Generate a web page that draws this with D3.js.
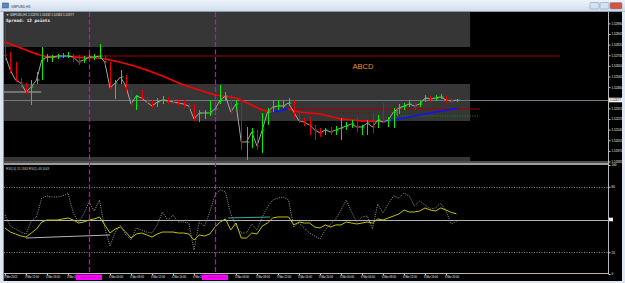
<!DOCTYPE html>
<html><head><meta charset="utf-8">
<script src="https://cdn.jsdelivr.net/npm/d3@7"></script>
<style>html,body{margin:0;padding:0;background:#000;overflow:hidden}svg{display:block}</style>
</head><body>
<svg id="c" width="625" height="283"></svg>
<script>
// ---------- DATA ----------
const closes = [
 1.52737,1.52617,1.52537,1.52513,1.52441,1.52481,1.52537,1.52697,1.52721,1.52721,
 1.52729,1.52729,1.52729,1.52721,1.52681,1.52697,1.52721,1.52721,1.52729,1.52681,
 1.52473,1.52513,1.52561,1.52489,1.52345,1.52409,1.52393,1.52361,1.52329,1.52361,
 1.52377,1.52369,1.52361,1.52353,1.52345,1.52329,1.52225,1.52273,1.52273,1.52273,
 1.52305,1.52377,1.52409,1.52281,1.52345,1.52041,1.52041,1.52121,1.52009,1.52137,
 1.52281,1.52321,1.52329,1.52329,1.52353,1.52281,1.52209,1.52201,1.52177,1.52137,
 1.52113,1.52137,1.52121,1.52137,1.52153,1.52169,1.52185,1.52161,1.52161,1.52193,
 1.52161,1.52217,1.52201,1.52217,1.52281,1.52313,1.52329,1.52345,1.52329,1.52345,
 1.52393,1.52385,1.52393,1.52401,1.52377,1.52369,1.52377];
const highs = [
 1.53017,1.52761,1.52681,1.52553,1.52513,1.52537,1.52601,1.52801,1.52745,1.52737,
 1.52745,1.52753,1.52761,1.52745,1.52737,1.52729,1.52753,1.52745,1.52825,1.52737,
 1.52681,1.52537,1.52617,1.52577,1.52457,1.52417,1.52457,1.52401,1.52377,1.52393,
 1.52409,1.52401,1.52393,1.52385,1.52377,1.52353,1.52345,1.52297,1.52297,1.52377,
 1.52345,1.52497,1.52441,1.52417,1.52377,1.52377,1.52161,1.52153,1.52137,1.52273,
 1.52313,1.52377,1.52377,1.52369,1.52393,1.52377,1.52297,1.52233,1.52241,1.52177,
 1.52153,1.52153,1.52161,1.52169,1.52233,1.52201,1.52217,1.52241,1.52177,1.52217,
 1.52273,1.52257,1.52353,1.52241,1.52313,1.52345,1.52353,1.52377,1.52353,1.52369,
 1.52417,1.52409,1.52417,1.52425,1.52409,1.52393,1.52385];
const lows = [
 1.52697,1.52593,1.52521,1.52473,1.52425,1.52337,1.52505,1.52537,1.52681,1.52681,
 1.52705,1.52713,1.52713,1.52681,1.52657,1.52673,1.52681,1.52697,1.52705,1.52657,
 1.52465,1.52385,1.52505,1.52441,1.52329,1.52297,1.52377,1.52337,1.52313,1.52321,
 1.52345,1.52345,1.52345,1.52329,1.52313,1.52297,1.52209,1.52201,1.52225,1.52249,
 1.52257,1.52345,1.52377,1.52265,1.52297,1.51977,1.51897,1.51993,1.51977,1.51953,
 1.52177,1.52281,1.52297,1.52313,1.52329,1.52233,1.52193,1.52169,1.52097,1.52057,
 1.52081,1.52097,1.52097,1.52097,1.52057,1.52137,1.52153,1.52121,1.52097,1.52097,
 1.52113,1.52153,1.52193,1.52161,1.52153,1.52265,1.52297,1.52321,1.52297,1.52321,
 1.52361,1.52361,1.52369,1.52385,1.52353,1.52353,1.52361];
const maBars = [0,3,6,8,10,12,14,18,21,24,27,30,34,37,40,44,47,49,51,54,56,60,64,68,72,74,77,80,82,86];
const maValues = [1.52841,1.52793,1.52745,1.52721,1.52717,1.52729,1.52717,1.52713,1.52689,1.52657,
 1.52617,1.52569,1.52497,1.52457,1.52417,1.52393,1.52337,1.52297,1.52281,1.52305,
 1.52281,1.52265,1.52225,1.52209,1.52205,1.52217,1.52241,1.52265,1.52281,1.52309];
const rsiSlow = [
 42.2,38.5,36.7,34.9,33.9,37.6,41.3,47.7,49.5,49.5,
 49.5,50.5,51.4,49.5,46.8,47.7,49.5,50.5,52.3,45.0,
 37.6,41.3,43.1,38.5,33.0,36.7,37.6,35.8,33.9,36.7,
 38.5,38.5,38.5,37.6,37.6,36.7,31.2,35.8,34.9,36.7,
 43.1,47.7,50.5,40.4,46.8,33.0,33.0,37.6,36.7,44.0,
 46.8,51.4,52.3,52.3,52.3,45.0,47.7,46.8,46.8,43.1,
 42.2,45.0,43.1,45.0,45.0,47.7,46.8,45.9,46.8,47.7,
 46.8,50.5,49.5,51.4,53.2,55.0,58.7,56.9,56.9,57.8,
 60.6,58.7,57.8,60.6,58.7,56.5,55.2];
const rsiFast = [
 54.1,44.0,41.3,38.5,36.7,48.6,52.3,69.7,71.6,70.6,
 70.6,71.6,74.3,56.0,47.7,55.0,66.1,57.8,67.9,42.2,
 25.7,38.5,45.0,35.8,31.2,42.2,40.4,38.5,37.6,45.0,
 56.9,49.5,54.1,47.7,47.7,46.8,22.0,47.7,44.0,56.9,
 72.5,77.1,75.2,55.0,44.0,37.6,37.6,45.9,40.4,52.3,
 61.5,67.9,69.7,70.6,67.9,43.1,46.8,42.2,37.6,34.9,
 32.1,40.4,45.9,50.5,58.7,67.9,56.9,47.7,52.3,53.2,
 41.3,64.2,56.0,64.2,71.6,69.7,74.3,71.6,62.4,67.0,
 63.3,59.6,60.6,65.1,57.8,45.9,48.3];
const priceTicks = [1.52990,1.52905,1.52820,1.52735,1.52650,1.52565,1.52480,1.52310,1.52225,1.52140,1.52055,1.51970,1.51885];
const timeTickBars = [0,4,8,12,20,24,28,32,36,44,48,52,56,60,64,68,72,76,80,84];
const timeLabels = ["3 Mar 2015","3 Mar 12:00","3 Mar 16:00","3 Mar 20:00","4 Mar 04:00","4 Mar 08:00","4 Mar 12:00","4 Mar 16:00","4 Mar 20:00",
 "5 Mar 04:00","5 Mar 08:00","5 Mar 12:00","5 Mar 16:00","5 Mar 20:00","6 Mar 00:00","6 Mar 04:00","6 Mar 08:00","6 Mar 12:00","6 Mar 16:00","6 Mar 20:00"];
const sepBars = [16,40];
const sepLabels = ["2015.03.04 00:00","2015.03.05 00:00"];
const rsiLevels = [80,50,20];
const bidPrice = 1.52377;
// chart objects (time in bar units, price values)
const zones = [{b0:-1,b1:88.6,p0:1.53200,p1:1.52801},{b0:-1,b1:88.6,p0:1.52505,p1:1.52209},{b0:-1,b1:88.6,p0:1.51921,p1:1.51700}];
const trendLines = [
 {b0:6.8,b1:105.7,p0:1.52729,p1:1.52729,color:"#a00000",dash:null},
 {b0:54,b1:90.5,p0:1.52305,p1:1.52305,color:"#a00000",dash:null},
 {b0:62.5,b1:69.5,p0:1.52273,p1:1.52273,color:"#8a0000",dash:"1,1.5"},
 {b0:74.7,b1:90.5,p0:1.52249,p1:1.52249,color:"#00a000",dash:"1,1.5"},
 {b0:74.7,b1:74.7,p0:1.52297,p1:1.52249,color:"#888888",dash:null},
 {b0:-0.2,b1:6.9,p0:1.52441,p1:1.52441,color:"#b0b0b0",dash:null}];
const rsiTrend = [{b0:4,b1:20,v0:33.0,v1:35.8,color:"#b4b4b4"},{b0:42.5,b1:50.5,v0:51.4,v1:52.3,color:"#3aa8a8"}];

// ---------- SCALES ----------
const svg = d3.select("#c");
const x = d3.scaleLinear().domain([0,86]).range([5,456.5]);
const y = d3.scaleLinear().domain([1.51897,1.53081]).range([160,12]);
const ys = d3.scaleLinear().domain([0,100]).range([274,165]);
const font = "'Liberation Sans', Arial, sans-serif";

svg.append("rect").attr("width",625).attr("height",283).attr("fill","#000");

const defs = svg.append("defs");
const g1 = defs.append("linearGradient").attr("id","tb").attr("x1",0).attr("y1",0).attr("x2",0).attr("y2",1);
g1.append("stop").attr("offset","0").attr("stop-color","#eef3fa");
g1.append("stop").attr("offset","1").attr("stop-color","#cfdcec");
defs.append("clipPath").attr("id","cm").append("rect").attr("x",4).attr("y",12).attr("width",604).attr("height",149);
defs.append("clipPath").attr("id","cs").append("rect").attr("x",4).attr("y",165).attr("width",604).attr("height",108.5);

// ---------- MAIN PANE ----------
const main = svg.append("g").attr("clip-path","url(#cm)");
main.selectAll("rect.zone").data(zones).join("rect").attr("class","zone")
  .attr("x",d=>x(d.b0)).attr("width",d=>x(d.b1)-x(d.b0))
  .attr("y",d=>y(d.p0)).attr("height",d=>y(d.p1)-y(d.p0)).attr("fill","#363636");
main.append("line").attr("x1",4).attr("x2",608).attr("y1",y(bidPrice)+0.5).attr("y2",y(bidPrice)+0.5)
  .attr("stroke","#6f7a86").attr("stroke-width",1);
main.selectAll("line.tl").data(trendLines).join("line").attr("class","tl")
  .attr("x1",d=>x(d.b0)).attr("x2",d=>x(d.b1)).attr("y1",d=>y(d.p0)).attr("y2",d=>y(d.p1))
  .attr("stroke",d=>d.color).attr("stroke-width",1).attr("stroke-dasharray",d=>d.dash);
const maPts = maBars.map((b,i)=>({b:b,v:maValues[i]}));
main.selectAll("line.ma").data(d3.pairs(maPts)).join("line").attr("class","ma")
  .attr("x1",d=>x(d[0].b)).attr("y1",d=>y(d[0].v)).attr("x2",d=>x(d[1].b)).attr("y2",d=>y(d[1].v))
  .attr("stroke",d=>d[1].v>d[0].v?"#1010ff":"#ff0000").attr("stroke-width",1.6).attr("stroke-linecap","round");
main.append("path").datum(closes).attr("fill","none").attr("stroke","#a6a6a6").attr("stroke-width",1)
  .attr("d",d3.line().x((d,i)=>x(i)).y(d=>y(d)));
const bars = closes.map((c,i)=>({i:i,c:c,h:highs[i],l:lows[i],up:i===0?false:c>=closes[i-1]}));
const bg = main.selectAll("g.bar").data(bars).join("g").attr("class","bar");
bg.append("line").attr("x1",d=>Math.round(x(d.i))+0.5).attr("x2",d=>Math.round(x(d.i))+0.5)
  .attr("y1",d=>y(d.h)).attr("y2",d=>y(d.l)).attr("stroke",d=>d.up?"#00ee00":"#ee0000").attr("stroke-width",1);
bg.append("line").attr("x1",d=>Math.round(x(d.i))+0.5).attr("x2",d=>Math.round(x(d.i))+2.5)
  .attr("y1",d=>y(d.c)).attr("y2",d=>y(d.c)).attr("stroke",d=>d.up?"#00ee00":"#ee0000").attr("stroke-width",1);
main.append("text").attr("x",x(66.2)).attr("y",y(1.52649)+2.5).text("ABCD")
  .attr("font-family",font).attr("font-size",7.5).attr("fill","#f08c1e");
main.append("text").attr("x",6).attr("y",16.2).text("\u25BC GBPUSD,H1  1.52370 1.52432 1.52363 1.52377")
  .attr("font-family",font).attr("font-size",3).attr("fill","#e8e8e8");
main.append("text").attr("x",6).attr("y",21.5).text("Spread: 12 points")
  .attr("font-family","'DejaVu Sans Mono', monospace").attr("font-weight","bold").attr("font-size",4.3).attr("fill","#f4f4f4");

// separator between panes
svg.append("rect").attr("x",4).attr("y",161).attr("width",604).attr("height",2).attr("fill","#4e4e4e");
svg.append("rect").attr("x",4).attr("y",163).attr("width",604).attr("height",2).attr("fill","#9c9c9c");

// ---------- SUB PANE ----------
const sub = svg.append("g").attr("clip-path","url(#cs)");
sub.selectAll("line.lvl").data(rsiLevels).join("line").attr("class","lvl")
  .attr("x1",4).attr("x2",608).attr("y1",d=>Math.round(ys(d))+0.5).attr("y2",d=>Math.round(ys(d))+0.5)
  .attr("stroke",d=>d===50?"#b4b4b4":"#8a8a8a").attr("stroke-width",1).attr("stroke-dasharray",d=>d===50?null:"1,1.5");
sub.selectAll("line.rt").data(rsiTrend).join("line").attr("class","rt")
  .attr("x1",d=>x(d.b0)).attr("x2",d=>x(d.b1)).attr("y1",d=>ys(d.v0)).attr("y2",d=>ys(d.v1))
  .attr("stroke",d=>d.color).attr("stroke-width",1);
sub.append("path").datum(rsiFast).attr("fill","none").attr("stroke","#a8a8a8").attr("stroke-width",0.9)
  .attr("stroke-dasharray","1,1.3").attr("d",d3.line().x((d,i)=>x(i)).y(d=>ys(d)));
sub.append("path").datum(rsiSlow).attr("fill","none").attr("stroke","#c2c200").attr("stroke-width",1)
  .attr("d",d3.line().x((d,i)=>x(i)).y(d=>ys(d)));
sub.append("text").attr("x",6).attr("y",169.5).text("RSI(14) 55.1843  RSI(5) 48.3043")
  .attr("font-family",font).attr("font-size",3).attr("fill","#c8c8c8");

// magenta period separators
svg.selectAll("line.sep").data(sepBars).join("line").attr("class","sep")
  .attr("x1",d=>Math.round(x(d))+0.5).attr("x2",d=>Math.round(x(d))+0.5).attr("y1",12).attr("y2",273)
  .attr("stroke","#d800d8").attr("stroke-width",1.2).attr("stroke-dasharray","5,2.5");

// ---------- AXES ----------
const pa = svg.append("g").attr("transform","translate(608.5,0)")
  .call(d3.axisRight(y).tickValues(priceTicks).tickSize(2).tickFormat(d3.format(".5f")));
pa.select(".domain").remove();
pa.selectAll("line").attr("stroke","#c8c8c8");
pa.selectAll("text").attr("font-family",font).attr("font-size",3).attr("fill","#f0f0f0").attr("x",3);
svg.append("line").attr("x1",608.5).attr("x2",608.5).attr("y1",12).attr("y2",274).attr("stroke","#b8b8b8");
// bid label
svg.append("rect").attr("x",609).attr("y",y(bidPrice)-2.3).attr("width",13).attr("height",4.6).attr("fill","#f4f4f4");
svg.append("text").attr("x",610).attr("y",y(bidPrice)+1.1).text(d3.format(".5f")(bidPrice))
  .attr("font-family",font).attr("font-size",3).attr("fill","#000");
// rsi axis labels
const ra = svg.append("g").attr("transform","translate(608.5,0)")
  .call(d3.axisRight(ys).tickValues([100,80,20,0]).tickSize(2).tickFormat(d3.format("d")));
ra.select(".domain").remove();
ra.selectAll("line").attr("stroke","#c8c8c8");
ra.selectAll("text").attr("font-family",font).attr("font-size",3).attr("fill","#f0f0f0").attr("x",3);
svg.append("rect").attr("x",609).attr("y",ys(50)-1.8).attr("width",4).attr("height",3.6).attr("fill","#f4f4f4");

// time axis
svg.append("line").attr("x1",4).attr("x2",608.5).attr("y1",273.5).attr("y2",273.5).attr("stroke","#b8b8b8");
const ta = svg.append("g").attr("transform","translate(0,273.5)")
  .call(d3.axisBottom(x).tickValues(timeTickBars).tickSize(2).tickFormat((d,i)=>timeLabels[i]));
ta.select(".domain").remove();
ta.selectAll("line").attr("stroke","#c8c8c8");
ta.selectAll("text").attr("font-family",font).attr("font-size",2.6).attr("fill","#f0f0f0")
  .attr("text-anchor","start").attr("x",-1.5).attr("y",2.4);
const sl = svg.selectAll("g.sl").data(sepBars).join("g").attr("class","sl")
  .attr("transform",d=>`translate(${x(d)},274.5)`);
sl.append("rect").attr("x",-13).attr("y",0).attr("width",26).attr("height",5.5).attr("fill","#ff00ff");
sl.append("text").attr("x",1.5).attr("y",3.9).attr("text-anchor","middle").text((d,i)=>sepLabels[i])
  .attr("font-family",font).attr("font-size",2.5).attr("fill","#3a003a");

// ---------- WINDOW FRAME ----------
svg.append("rect").attr("x",0).attr("y",0).attr("width",625).attr("height",11.5).attr("fill","url(#tb)");
svg.append("line").attr("x1",0).attr("x2",625).attr("y1",11.5).attr("y2",11.5).attr("stroke","#8a9bb0");
svg.append("rect").attr("x",0).attr("y",11.5).attr("width",3.5).attr("height",272).attr("fill","#dde6f1");
svg.append("line").attr("x1",3.5).attr("x2",3.5).attr("y1",11.5).attr("y2",281).attr("stroke","#8597ae");
svg.append("rect").attr("x",622).attr("y",11.5).attr("width",3).attr("height",272).attr("fill","#dde6f1");
svg.append("rect").attr("x",0).attr("y",281).attr("width",625).attr("height",2).attr("fill","#dde6f1");
svg.append("rect").attr("x",2.5).attr("y",3).attr("width",6).attr("height",5).attr("fill","#5b86c0").attr("stroke","#2c4f80").attr("stroke-width",0.5);
svg.append("text").attr("x",11).attr("y",7.8).text("GBPUSD,H1").attr("font-family",font).attr("font-size",3.4).attr("fill","#1d3455");
const btn = [{x:590,w:9,f:"#d5e1f0"},{x:600,w:9,f:"#d5e1f0"},{x:610,w:12,f:"#d2553e"}];
svg.selectAll("rect.btn").data(btn).join("rect").attr("class","btn").attr("x",d=>d.x).attr("y",2.5).attr("width",d=>d.w).attr("height",6.5)
  .attr("rx",1).attr("fill",d=>d.f).attr("stroke","#7a8da8").attr("stroke-width",0.5);
</script>
</body></html>
